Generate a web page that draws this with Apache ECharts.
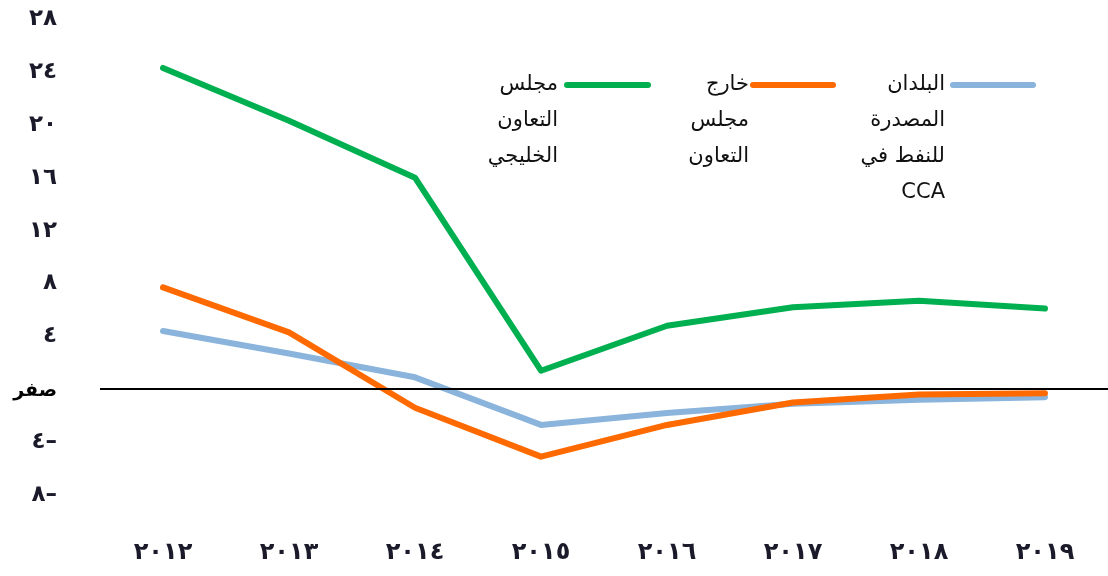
<!DOCTYPE html>
<html>
<head>
<meta charset="utf-8">
<script src="https://cdn.jsdelivr.net/npm/echarts@6/dist/echarts.min.js"></script>
<style>
  html, body { margin: 0; padding: 0; background: #fff; }
  #chart { width: 1108px; height: 576px; }
</style>
</head>
<body>
<div id="chart"></div>
<script>
// data
const years = ['٢٠١٢', '٢٠١٣', '٢٠١٤', '٢٠١٥', '٢٠١٦', '٢٠١٧', '٢٠١٨', '٢٠١٩']
const gcc = [24.3, 20.3, 16.0, 1.4, 4.8, 6.2, 6.7, 6.1]
const nonGcc = [7.7, 4.3, -1.4, -5.1, -2.7, -1.0, -0.4, -0.3]
const ccaOil = [4.4, 2.7, 0.9, -2.7, -1.8, -1.1, -0.8, -0.6]
const seriesNames = ['مجلس\nالتعاون\nالخليجي', 'خارج\nمجلس\nالتعاون', 'البلدان\nالمصدرة\nللنفط في\nCCA']

const arabicDigits = '٠١٢٣٤٥٦٧٨٩'
const toArabic = (n) => String(n).replace(/[0-9]/g, d => arabicDigits[+d])
const yLabel = (v) => {
    if (v === 0) return '{zero|صفر}'
    if (v < 0) return toArabic(-v) + '–'
    return toArabic(v)
}

const colors = ['#00B050', '#FF6A00', '#8AB4DC']
const font = '"DejaVu Sans", sans-serif'

const chart = echarts.init(document.getElementById('chart'), null, {renderer: 'canvas'})

const lineSeries = (name, data, color, z) => ({
    name: name,
    type: 'line',
    data: data,
    symbol: 'none',
    z: z,
    lineStyle: {color: color, width: 6, cap: 'round', join: 'round'},
    itemStyle: {color: color}
})

// legend: text right-aligned, colour line to its right
const legendItem = (textRight, lineStart, lineEnd, text, color) => ([
    {
        type: 'text',
        x: textRight,
        y: 67,
        style: {
            text: text,
            font: '21px ' + font,
            fill: '#111',
            lineHeight: 36,
            align: 'right',
            verticalAlign: 'top'
        }
    },
    {
        type: 'line',
        shape: {x1: lineStart, y1: 85, x2: lineEnd, y2: 85},
        style: {stroke: color, lineWidth: 6, lineCap: 'round'}
    }
])

const option = {
    animation: false,
    grid: {left: 100, right: 0, top: 19, bottom: 81},
    xAxis: {
        type: 'category',
        data: years,
        boundaryGap: true,
        axisLine: {show: false},
        axisTick: {show: false},
        axisLabel: {
            margin: 46,
            color: '#1a1a2a',
            fontSize: 24,
            fontWeight: 'bold',
            fontFamily: font
        }
    },
    yAxis: {
        type: 'value',
        min: -8,
        max: 28,
        interval: 4,
        axisLine: {show: false},
        axisTick: {show: false},
        splitLine: {show: false},
        axisLabel: {
            margin: 43,
            color: '#1a1a2a',
            fontSize: 23,
            fontWeight: 'bold',
            fontFamily: font,
            formatter: yLabel,
            rich: {
                zero: {
                    fontSize: 19,
                    fontWeight: 'bold',
                    fontFamily: font,
                    color: '#000',
                    padding: [4, 0, 0, 0]
                }
            }
        }
    },
    graphic: [
        ...legendItem(558, 567, 648, seriesNames[0], colors[0]),
        ...legendItem(749, 753, 833, seriesNames[1], colors[1]),
        ...legendItem(945, 953, 1033, seriesNames[2], colors[2])
    ],
    series: [
        Object.assign(lineSeries('ccaOil', ccaOil, colors[2], 2), {
            markLine: {
                silent: true,
                symbol: 'none',
                label: {show: false},
                lineStyle: {color: '#000', width: 2, type: 'solid'},
                data: [{yAxis: 0}]
            }
        }),
        lineSeries('nonGcc', nonGcc, colors[1], 3),
        lineSeries('gcc', gcc, colors[0], 4)
    ]
}

chart.setOption(option)
</script>
</body>
</html>
